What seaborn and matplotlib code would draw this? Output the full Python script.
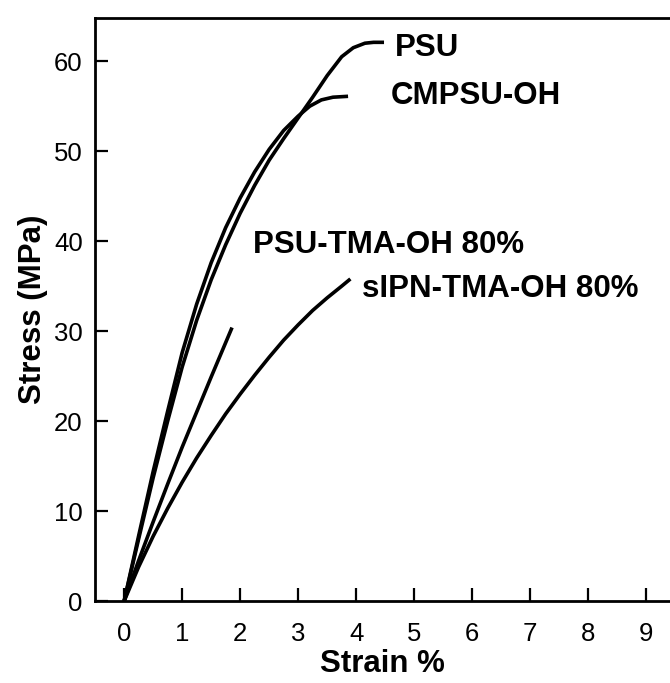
import matplotlib
matplotlib.use("Agg")
import matplotlib.pyplot as plt
import seaborn as sns
import pandas as pd

# ---- data ----
psu_strain = [0, 0.25, 0.5, 0.75, 1.0, 1.25, 1.5, 1.75, 2.0, 2.25, 2.5, 2.75, 3.0, 3.25, 3.5, 3.75, 3.95, 4.15, 4.3, 4.48]
psu_stress = [0, 6.9, 13.7, 20.0, 26.0, 31.2, 35.7, 39.6, 43.1, 46.2, 49.0, 51.4, 53.7, 56.0, 58.4, 60.5, 61.5, 62.0, 62.1, 62.1]

cmpsu_strain = [0, 0.25, 0.5, 0.75, 1.0, 1.25, 1.5, 1.75, 2.0, 2.25, 2.5, 2.75, 3.0, 3.2, 3.4, 3.6, 3.86]
cmpsu_stress = [0, 7.25, 14.4, 21.1, 27.6, 33.0, 37.6, 41.5, 44.8, 47.7, 50.2, 52.3, 53.9, 55.0, 55.7, 56.0, 56.1]

tma_strain = [0, 0.25, 0.5, 0.75, 1.0, 1.25, 1.5, 1.86]
tma_stress = [0, 4.5, 8.8, 13.0, 17.1, 21.0, 24.9, 30.4]

sipn_strain = [0, 0.25, 0.5, 0.75, 1.0, 1.25, 1.5, 1.75, 2.0, 2.25, 2.5, 2.75, 3.0, 3.25, 3.5, 3.75, 3.9]
sipn_stress = [0, 3.8, 7.2, 10.3, 13.2, 15.9, 18.4, 20.8, 23.0, 25.1, 27.1, 29.0, 30.7, 32.3, 33.7, 35.0, 35.8]

series_names = ["PSU", "CMPSU-OH", "PSU-TMA-OH 80%", "sIPN-TMA-OH 80%"]
label_x = [4.67, 4.59, 2.22, 4.10]
label_y = [60.6, 55.2, 38.7, 33.8]

x_ticks = list(range(0, 10))
y_ticks = list(range(0, 70, 10))

# ---- build long table ----
frames = []
for name, sx, sy in zip(series_names,
                        [psu_strain, cmpsu_strain, tma_strain, sipn_strain],
                        [psu_stress, cmpsu_stress, tma_stress, sipn_stress]):
    frames.append(pd.DataFrame({"strain": sx, "stress": sy, "sample": name}))
df = pd.concat(frames, ignore_index=True)

sns.set_theme(style="white")
plt.rcParams["font.family"] = ["Liberation Sans", "DejaVu Sans"]

fig = plt.figure(figsize=(6.7, 6.83), dpi=100)
ax = fig.add_axes([0.142, 0.120, 0.858, 0.8536])

for name in series_names:
    sub = df[df["sample"] == name]
    sns.lineplot(data=sub, x="strain", y="stress", color="black", lw=2.6,
                 sort=False, estimator=None, ax=ax, legend=False,
                 solid_capstyle="butt", solid_joinstyle="round")

for name, tx, ty in zip(series_names, label_x, label_y):
    ax.text(tx, ty, name, fontsize=22.5, fontweight="bold", ha="left", va="baseline", color="black")

ax.set_xlim(-0.5, 9.41)
ax.set_ylim(0, 64.8)
ax.set_xticks(x_ticks)
ax.set_yticks(y_ticks)
ax.tick_params(axis="both", which="major", direction="in", length=9.5, width=1.6,
               labelsize=18.5, colors="black", labelcolor="black",
               bottom=True, left=True, top=False, right=False)
ax.tick_params(axis="x", pad=15)
ax.tick_params(axis="y", pad=9)

for side in ["left", "bottom", "top"]:
    ax.spines[side].set_linewidth(2.0)
    ax.spines[side].set_color("black")
ax.spines["right"].set_visible(False)

ax.set_xlabel("Strain %", fontsize=22.5, fontweight="bold", color="black", labelpad=2)
ax.set_ylabel("Stress (MPa)", fontsize=22.5, fontweight="bold", color="black", labelpad=4)

fig.savefig("out.png", dpi=100)
